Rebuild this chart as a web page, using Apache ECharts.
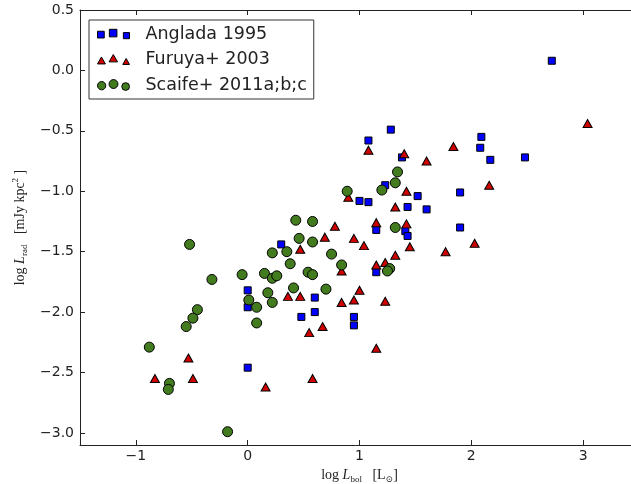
<!DOCTYPE html>
<html><head><meta charset="utf-8">
<script src="https://cdn.jsdelivr.net/npm/echarts@6/dist/echarts.min.js"></script>
<style>html,body{margin:0;padding:0;background:#fff}#c{width:631px;height:484px}</style>
</head><body><div id="c"></div>
<script>
const seriesNames = ['Anglada 1995', 'Furuya+ 2003', 'Scaife+ 2011a;b;c'];
const anglada = [[-0.00,-1.82],[-0.00,-1.96],[-0.00,-2.46],[0.30,-1.44],[0.60,-1.88],[0.48,-2.04],[0.60,-2.00],[0.95,-2.04],[0.95,-2.11],[1.28,-0.49],[1.08,-0.58],[1.38,-0.72],[1.23,-0.95],[1.00,-1.08],[1.08,-1.09],[1.52,-1.04],[1.43,-1.13],[1.60,-1.15],[1.15,-1.32],[1.41,-1.33],[1.43,-1.37],[1.15,-1.67],[2.09,-0.55],[2.08,-0.64],[2.17,-0.74],[2.48,-0.72],[1.90,-1.01],[1.90,-1.30],[2.72,0.08]];
const furuya = [[-0.53,-2.38],[-0.83,-2.55],[-0.49,-2.55],[0.78,-1.29],[0.69,-1.38],[0.95,-1.39],[0.47,-1.48],[0.84,-1.66],[0.36,-1.87],[0.47,-1.87],[0.84,-1.92],[0.95,-1.90],[0.67,-2.12],[0.55,-2.17],[0.58,-2.55],[0.16,-2.62],[1.08,-0.66],[1.40,-0.69],[1.60,-0.75],[1.42,-1.00],[0.90,-1.05],[1.32,-1.13],[1.15,-1.26],[1.42,-1.27],[1.04,-1.45],[1.32,-1.53],[1.45,-1.46],[1.77,-1.50],[1.15,-1.61],[1.23,-1.59],[1.00,-1.82],[1.23,-1.91],[1.15,-2.30],[3.04,-0.44],[1.84,-0.63],[2.16,-0.95],[2.03,-1.43]];
const scaife = [[-0.52,-1.44],[-0.32,-1.73],[-0.05,-1.69],[0.01,-1.90],[0.08,-1.96],[0.08,-2.09],[-0.45,-1.98],[-0.49,-2.05],[-0.55,-2.12],[-0.88,-2.29],[-0.70,-2.59],[-0.71,-2.64],[-0.18,-2.99],[0.43,-1.24],[0.58,-1.25],[0.46,-1.39],[0.58,-1.42],[0.22,-1.51],[0.35,-1.50],[0.38,-1.60],[0.75,-1.52],[0.84,-1.61],[0.15,-1.68],[0.22,-1.72],[0.26,-1.70],[0.54,-1.67],[0.58,-1.69],[0.41,-1.80],[0.70,-1.81],[0.18,-1.84],[0.22,-1.92],[1.34,-0.84],[1.32,-0.93],[1.20,-0.99],[0.89,-1.00],[1.32,-1.30],[1.27,-1.64],[1.25,-1.66]];
const xTicks = [-1, 0, 1, 2, 3];
const xTickLabels = ['\u22121', '0', '1', '2', '3'];
const yTicks = [-3.0, -2.5, -2.0, -1.5, -1.0, -0.5, 0.0, 0.5];
const yTickLabels = ['\u22123.0', '\u22122.5', '\u22122.0', '\u22121.5', '\u22121.0', '\u22120.5', '0.0', '0.5'];
const xRange = [-1.5, 3.5];
const yRange = [-3.1, 0.5];

const iconSquares = 'path://M0.7 2.7h6.6v6.6h-6.6Z M12.3 0.8h7.4v7.4h-7.4Z M26 4h6v6h-6Z';
const iconTriangles = 'path://M4 3L8 10L0 10Z M16 0.5L20.3 7.9L11.7 7.9Z M29 4.5L32.4 10.5L25.6 10.5Z';
const iconCircles = 'path://M0 6.3a4.3 4.3 0 1 0 8.6 0a4.3 4.3 0 1 0 -8.6 0Z M12 4.6a4.6 4.6 0 1 0 9.2 0a4.6 4.6 0 1 0 -9.2 0Z M25.2 7.2a4 4 0 1 0 8 0a4 4 0 1 0 -8 0Z';

const axisColor = '#222';
const serif = '"Liberation Serif", "DejaVu Serif", serif';
const nameRich = {
  n: {fontFamily: serif, fontSize: 14, color: '#222', lineHeight: 18},
  i: {fontFamily: serif, fontSize: 14, fontStyle: 'italic', color: '#222', lineHeight: 18},
  s: {fontFamily: serif, fontSize: 9, color: '#222', lineHeight: 9, verticalAlign: 'bottom'},
  p: {fontFamily: serif, fontSize: 9, color: '#222', lineHeight: 9, verticalAlign: 'top'}
};
function fmt(ticks, labels) { return v => { const k = ticks.findIndex(t => Math.abs(t - v) < 1e-6); return k >= 0 ? labels[k] : ''; }; }
const line = {onZero: false, lineStyle: {color: axisColor, width: 1}};

const chart = echarts.init(document.getElementById('c'), null, {renderer: 'canvas'});
chart.setOption({
  animation: false,
  backgroundColor: '#fff',
  grid: {left: 80, top: 10, width: 559, height: 435, containLabel: false, outerBoundsMode: 'none'},
  legend: {
    orient: 'vertical', left: 89, top: 20,
    padding: [5, 7, 5, 8], itemGap: 7.5,
    itemWidth: 32, itemHeight: 12,
    borderColor: '#333', borderWidth: 1, backgroundColor: '#fff',
    selectedMode: false,
    itemStyle: {borderColor: '#000', borderWidth: 1},
    textStyle: {fontFamily: 'DejaVu Sans', fontSize: 17.5, color: '#222', lineHeight: 18, padding: [0, 0, 0, 11]},
    data: [
      {name: seriesNames[0], icon: iconSquares},
      {name: seriesNames[1], icon: iconTriangles},
      {name: seriesNames[2], icon: iconCircles}
    ]
  },
  xAxis: [{
    type: 'value', min: xRange[0], max: xRange[1], position: 'bottom',
    name: '{n|log }{i|L}{s|bol}{n|   [L}{s|\u2299}{n|]}',
    nameLocation: 'middle', nameGap: 21,
    nameTextStyle: {rich: nameRich},
    axisLine: line,
    axisTick: {inside: true, length: 5, customValues: xTicks, lineStyle: {color: axisColor}},
    axisLabel: {customValues: xTicks, formatter: fmt(xTicks, xTickLabels), margin: 4, fontFamily: 'DejaVu Sans', fontSize: 14, color: '#222'},
    splitLine: {show: false}
  }, {
    type: 'value', min: xRange[0], max: xRange[1], position: 'top',
    axisLine: line,
    axisTick: {inside: true, length: 5, customValues: xTicks, lineStyle: {color: axisColor}},
    axisLabel: {show: false}, splitLine: {show: false}
  }],
  yAxis: [{
    type: 'value', min: yRange[0], max: yRange[1], position: 'left',
    name: '{n|log }{i|L}{s|rad}{n|   [mJy kpc}{p|2}{n| ]}',
    nameLocation: 'middle', nameGap: 44, nameRotate: 90,
    nameTextStyle: {rich: nameRich},
    axisLine: line,
    axisTick: {inside: true, length: 5, customValues: yTicks, lineStyle: {color: axisColor}},
    axisLabel: {customValues: yTicks, formatter: fmt(yTicks, yTickLabels), margin: 6, fontFamily: 'DejaVu Sans', fontSize: 14, color: '#222'},
    splitLine: {show: false}
  }, {
    type: 'value', min: yRange[0], max: yRange[1], position: 'right',
    axisLine: line,
    axisTick: {inside: true, length: 5, customValues: yTicks, lineStyle: {color: axisColor}},
    axisLabel: {show: false}, splitLine: {show: false}
  }],
  series: [
    {name: seriesNames[0], type: 'scatter', data: anglada, symbol: 'rect', symbolSize: 7,
     itemStyle: {color: '#0000ff', borderColor: '#000', borderWidth: 1, opacity: 1}, z: 2},
    {name: seriesNames[1], type: 'scatter', data: furuya, symbol: 'triangle', symbolSize: [9, 8],
     itemStyle: {color: '#d00000', borderColor: '#000', borderWidth: 1, opacity: 1}, z: 3},
    {name: seriesNames[2], type: 'scatter', data: scaife, symbol: 'circle', symbolSize: 10,
     itemStyle: {color: '#437c1f', borderColor: '#000', borderWidth: 1, opacity: 1}, z: 4}
  ]
});
</script></body></html>
